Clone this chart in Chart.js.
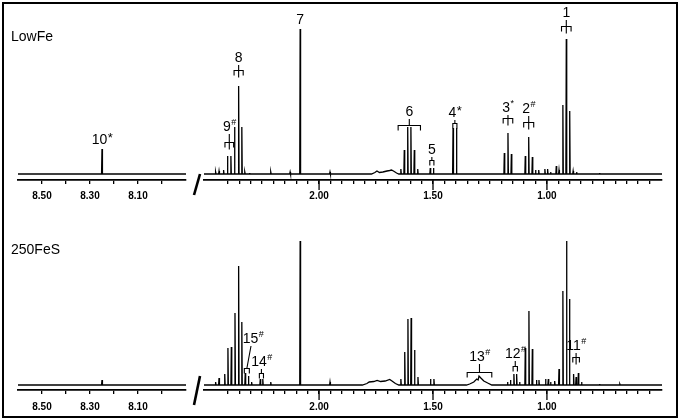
<!DOCTYPE html>
<html><head><meta charset="utf-8">
<script src="https://cdn.jsdelivr.net/npm/chart.js@4/dist/chart.umd.min.js"></script>
<style>
html,body{margin:0;padding:0;background:#fff;}
#wrap{position:relative;width:680px;height:420px;overflow:hidden;background:#fff;}
#wrap canvas{position:absolute;left:0;top:0;}
#frame{position:absolute;left:2px;top:2px;width:672px;height:412px;border:2px solid #000;pointer-events:none;}
</style></head><body>
<div id="wrap">
<canvas id="c1" width="680" height="420"></canvas>
<canvas id="c2" width="680" height="420"></canvas>
<canvas id="c3" width="680" height="420"></canvas>
<canvas id="c4" width="680" height="420"></canvas>
<div id="frame"></div>
</div>
<script>
// ---------------- data ----------------
const panelNames = ['LowFe', '250FeS'];

const leftRange = [7.90, 8.60];
const rightRange = [0.495, 2.505];

const leftTickValues = [8.50, 8.40, 8.30, 8.20, 8.10, 8.00];
const leftTickLabels = ['8.50', '8.30', '8.10'];
const rightTickValues = [2.40, 2.35, 2.30, 2.25, 2.20, 2.15, 2.10, 2.05, 2.00, 1.95, 1.90, 1.85,
  1.80, 1.75, 1.70, 1.65, 1.60, 1.55, 1.50, 1.45, 1.40, 1.35, 1.30, 1.25, 1.20, 1.15, 1.10,
  1.05, 1.00, 0.95, 0.90, 0.85, 0.80, 0.75, 0.70, 0.65, 0.60, 0.55];
const rightTickLabels = ['2.00', '1.50', '1.00'];

// [ppm, intensity]
const lowFeLeftPeaks = [[8.25, 25]];
const fesLeftPeaks = [[8.25, 5]];

const lowFePeaks = [
  [2.454, 2], [2.439, 3], [2.419, 4], [2.402, 18], [2.387, 18], [2.371, 47], [2.353, 88],
  [2.339, 47], [2.326, 2], [2.305, 1], [2.212, 2], [2.127, 2], [2.083, 145], [1.952, 2],
  [1.641, 5], [1.626, 24], [1.611, 47], [1.597, 47], [1.582, 24], [1.567, 5],
  [1.512, 6], [1.498, 6], [1.412, 46], [1.397, 46],
  [1.187, 21], [1.171, 41], [1.156, 20], [1.095, 18], [1.080, 37], [1.064, 17],
  [1.050, 4], [1.036, 4], [1.009, 5], [0.997, 5], [0.984, 2], [0.959, 8], [0.947, 4],
  [0.930, 69], [0.915, 135], [0.900, 63], [0.885, 3], [0.870, 2], [0.769, 1]
];
const lowFeHumps = [
  [1.770, 0], [1.755, 1.5], [1.746, 3], [1.735, 1.5], [1.720, 2], [1.702, 3],
  [1.690, 3.5], [1.682, 4], [1.670, 2.5], [1.660, 1], [1.650, 0]
];

const fesPeaks = [
  [2.454, 3], [2.439, 7], [2.414, 11], [2.400, 37], [2.385, 38], [2.369, 72], [2.353, 119],
  [2.339, 63], [2.324, 12], [2.310, 9], [2.296, 3], [2.258, 6], [2.247, 6], [2.212, 3],
  [2.083, 144], [1.952, 3],
  [1.641, 6], [1.624, 33], [1.610, 66], [1.596, 67], [1.581, 35], [1.566, 8],
  [1.511, 6], [1.496, 6],
  [1.173, 3], [1.160, 5], [1.145, 11], [1.133, 11], [1.120, 3],
  [1.095, 37], [1.079, 74], [1.064, 36],
  [1.046, 5], [1.035, 5], [1.006, 6], [0.994, 6], [0.984, 3], [0.966, 4],
  [0.947, 16], [0.930, 94], [0.914, 144], [0.901, 86],
  [0.883, 11], [0.872, 8], [0.862, 12], [0.848, 3], [0.769, 1], [0.680, 1]
];
const fesHumps = [
  [1.810, 0], [1.790, 1.5], [1.780, 3], [1.760, 3.5], [1.745, 4.5], [1.730, 3.5],
  [1.710, 4], [1.690, 5.5], [1.680, 4], [1.665, 1.5], [1.650, 0],
  [1.353, 0], [1.339, 1], [1.321, 3], [1.308, 6], [1.302, 5], [1.298, 9], [1.290, 7],
  [1.277, 4], [1.260, 2], [1.242, 0]
];

// annotations: ppm centre, bracket half-width (ppm), legs, bracket level and text level (intensity units)
const lowFeLeftNotes = [
  { text: '10', sup: '*', supBig: true, ppm: 8.25, txt: 34 }
];
const lowFeNotes = [
  { text: '9', sup: '#', ppm: 2.394, half: 0.019, legs: 3, bar: 32, txt: 47 },
  { text: '8', sup: '', ppm: 2.353, half: 0.020, legs: 3, bar: 104, txt: 116 },
  { text: '7', sup: '', ppm: 2.083, txt: 154 },
  { text: '6', sup: '', ppm: 1.604, half: 0.049, legs: 2, bar: 49, txt: 62 },
  { text: '5', sup: '', ppm: 1.505, half: 0.009, legs: 2, bar: 14, txt: 24 },
  { text: '4', sup: '*', supBig: true, ppm: 1.404, half: 0.009, legs: 2, bar: 51, txt: 61 },
  { text: '3', sup: '*', ppm: 1.171, half: 0.021, legs: 3, bar: 56, txt: 66 },
  { text: '2', sup: '#', ppm: 1.080, half: 0.022, legs: 3, bar: 52, txt: 65 },
  { text: '1', sup: '', ppm: 0.915, half: 0.021, legs: 3, bar: 148, txt: 161 }
];
const fesNotes = [
  { text: '15', sup: '#', ppm: 2.317, half: 0.011, legs: 2, bar: 17, txt: 46, textPpm: 2.290, leader: true },
  { text: '14', sup: '#', ppm: 2.253, half: 0.009, legs: 2, bar: 12, txt: 23 },
  { text: '13', sup: '#', ppm: 1.296, half: 0.054, legs: 2, bar: 13, txt: 28 },
  { text: '12', sup: '#', ppm: 1.139, half: 0.0095, legs: 2, bar: 19, txt: 31 },
  { text: '11', sup: '#', ppm: 0.872, half: 0.0145, legs: 3, bar: 28, txt: 39 }
];

// ---------------- drawing ----------------
const FONT = '"Liberation Sans", Arial, Helvetica, sans-serif';
const SPIKE = 0.0018;

function trace(range, peaks, humps) {
  const pts = [{ x: range[1], y: 0 }, { x: range[0], y: 0 }];
  peaks.forEach(([p, h]) => {
    pts.push({ x: p + SPIKE, y: 0 }, { x: p, y: h }, { x: p - SPIKE, y: 0 });
  });
  humps.forEach(([p, h]) => pts.push({ x: p, y: h }));
  pts.sort((a, b) => b.x - a.x);
  return pts;
}

function drawNotes(chart, notes) {
  const { ctx } = chart;
  const xs = chart.scales.x, ys = chart.scales.y;
  ctx.save();
  ctx.strokeStyle = '#000';
  ctx.fillStyle = '#000';
  ctx.lineWidth = 1.1;
  ctx.textBaseline = 'middle';
  ctx.textAlign = 'left';
  notes.forEach(a => {
    const cx = xs.getPixelForValue(a.ppm);
    const ty = ys.getPixelForValue(a.txt);
    const mainFont = '14px ' + FONT;
    const supFont = (a.supBig ? '13px ' : '9px ') + FONT;
    ctx.font = mainFont;
    const mw = ctx.measureText(a.text).width;
    ctx.font = supFont;
    const sw = a.sup ? ctx.measureText(a.sup).width : 0;
    const tcx = a.textPpm !== undefined ? xs.getPixelForValue(a.textPpm) : cx;
    const tx = tcx - (mw + sw) / 2;
    ctx.font = mainFont;
    ctx.fillText(a.text, tx, ty);
    if (a.sup) {
      ctx.font = supFont;
      ctx.fillText(a.sup, tx + mw + 0.5, ty - (a.supBig ? 2 : 4));
    }
    if (a.legs) {
      const by = Math.round(ys.getPixelForValue(a.bar)) + 0.5;
      const x0 = xs.getPixelForValue(a.ppm + a.half);
      const x1 = xs.getPixelForValue(a.ppm - a.half);
      const leg = 5;
      ctx.beginPath();
      ctx.moveTo(x0, by + leg); ctx.lineTo(x0, by); ctx.lineTo(x1, by); ctx.lineTo(x1, by + leg);
      if (a.legs === 3) { ctx.moveTo(cx, by); ctx.lineTo(cx, by + leg + 2); }
      if (a.leader) {
        ctx.moveTo(tcx - 2, ty + 7); ctx.lineTo(cx, by);
      } else {
        const top = ty + 7;
        if (by - top > 1) { ctx.moveTo(cx, by); ctx.lineTo(cx, top); }
      }
      ctx.stroke();
    }
  });
  ctx.restore();
}

function majorTicks(chart, labels) {
  const { ctx, chartArea } = chart;
  const xs = chart.scales.x;
  ctx.save();
  ctx.strokeStyle = '#000';
  ctx.lineWidth = 1.3;
  ctx.beginPath();
  labels.forEach(l => {
    const px = xs.getPixelForValue(parseFloat(l));
    ctx.moveTo(px, chartArea.bottom); ctx.lineTo(px, chartArea.bottom + 10);
  });
  ctx.stroke();
  ctx.restore();
}

function makeChart(id, cfg) {
  return new Chart(document.getElementById(id), {
    type: 'line',
    data: { datasets: [{ data: cfg.points, borderColor: '#000', borderWidth: 1.3, pointRadius: 0, tension: 0, fill: false }] },
    options: {
      responsive: false, animation: false, devicePixelRatio: 1,
      layout: { padding: cfg.padding },
      plugins: { legend: { display: false }, tooltip: { enabled: false }, title: { display: false } },
      scales: {
        x: {
          type: 'linear', reverse: true, min: cfg.range[0], max: cfg.range[1],
          afterBuildTicks: s => { s.ticks = cfg.ticks.map(v => ({ value: v })); },
          afterFit: s => { s.height = 30; },
          ticks: {
            autoSkip: false, maxRotation: 0, minRotation: 0, padding: cfg.tickPad, color: '#000',
            font: { family: FONT, size: 10, weight: 'bold' },
            callback: v => cfg.labels.includes(Number(v).toFixed(2)) ? Number(v).toFixed(2) : ''
          },
          grid: { drawOnChartArea: false, drawTicks: true, tickLength: 4, color: '#000', lineWidth: 1.3 },
          border: { display: true, color: '#000', width: 1.8 }
        },
        y: { type: 'linear', display: false, min: cfg.ymin, max: cfg.ymax }
      }
    },
    plugins: [{ id: 'deco' + id, afterDraw: cfg.afterDraw }]
  });
}

const panels = [
  { name: panelNames[0], leftPeaks: lowFeLeftPeaks, leftNotes: lowFeLeftNotes, peaks: lowFePeaks, humps: lowFeHumps, notes: lowFeNotes,
    top: 24, bottomPad: 210, ymin: -6, ymax: 150, tickPad: 6, nameY: 37, slash: [-6, 15], ids: ['c1', 'c2'] },
  { name: panelNames[1], leftPeaks: fesLeftPeaks, leftNotes: [], peaks: fesPeaks, humps: fesHumps, notes: fesNotes,
    top: 235, bottomPad: 0, ymin: -5, ymax: 150, tickPad: 7, nameY: 250, slash: [-14, 15], ids: ['c3', 'c4'] }
];

panels.forEach(p => {
  makeChart(p.ids[0], {
    points: trace(leftRange, p.leftPeaks, []),
    range: leftRange, ticks: leftTickValues, labels: leftTickLabels, tickPad: p.tickPad,
    padding: { left: 18, right: 494, top: p.top, bottom: p.bottomPad },
    ymin: p.ymin, ymax: p.ymax,
    afterDraw: chart => {
      const { ctx, chartArea } = chart;
      drawNotes(chart, p.leftNotes);
      ctx.save();
      ctx.fillStyle = '#000';
      ctx.font = '14px ' + FONT;
      ctx.textBaseline = 'middle';
      ctx.textAlign = 'left';
      ctx.fillText(p.name, 11, p.nameY);
      // axis break mark
      const xc = chartArea.right + 11;
      ctx.strokeStyle = '#000';
      ctx.lineWidth = 2.6;
      ctx.beginPath();
      ctx.moveTo(xc + 3, chartArea.bottom + p.slash[0]);
      ctx.lineTo(xc - 3, chartArea.bottom + p.slash[1]);
      ctx.stroke();
      ctx.restore();
    }
  });
  makeChart(p.ids[1], {
    points: trace(rightRange, p.peaks, p.humps),
    range: rightRange, ticks: rightTickValues, labels: rightTickLabels, tickPad: p.tickPad,
    padding: { left: 204, right: 18, top: p.top, bottom: p.bottomPad },
    ymin: p.ymin, ymax: p.ymax,
    afterDraw: chart => { drawNotes(chart, p.notes); majorTicks(chart, rightTickLabels); }
  });
});
</script>
</body></html>
